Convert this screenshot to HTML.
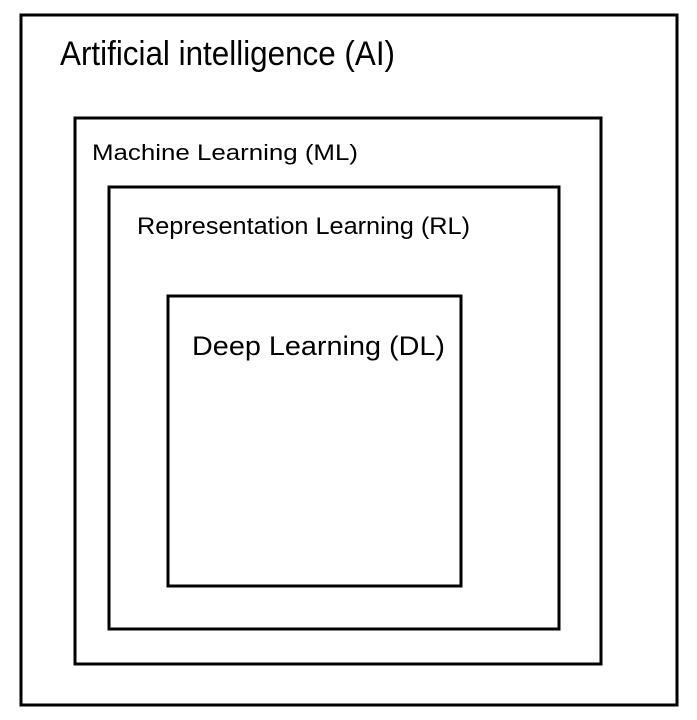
<!DOCTYPE html>
<html>
<head>
<meta charset="utf-8">
<style>
  html, body { margin: 0; padding: 0; background: #fff; }
  svg { display: block; }
  text { font-family: "Liberation Sans", "DejaVu Sans", sans-serif; fill: #000; }
</style>
</head>
<body>
<svg width="697" height="720" viewBox="0 0 697 720">
  <rect x="0" y="0" width="697" height="720" fill="#fff"/>
  <g fill="none" stroke="#000" stroke-width="3">
    <rect x="21" y="15" width="656" height="690"/>
    <rect x="75" y="118" width="526" height="546"/>
    <rect x="109" y="187" width="450" height="442"/>
    <rect x="168" y="296" width="293" height="290"/>
  </g>
  <text x="60" y="65" font-size="34" textLength="335" lengthAdjust="spacingAndGlyphs">Artificial intelligence (AI)</text>
  <text x="92" y="160" font-size="22" textLength="266" lengthAdjust="spacingAndGlyphs">Machine Learning (ML)</text>
  <text x="137" y="234" font-size="24" textLength="333" lengthAdjust="spacingAndGlyphs">Representation Learning (RL)</text>
  <text x="192" y="355" font-size="27" textLength="253" lengthAdjust="spacingAndGlyphs">Deep Learning (DL)</text>
</svg>
</body>
</html>
